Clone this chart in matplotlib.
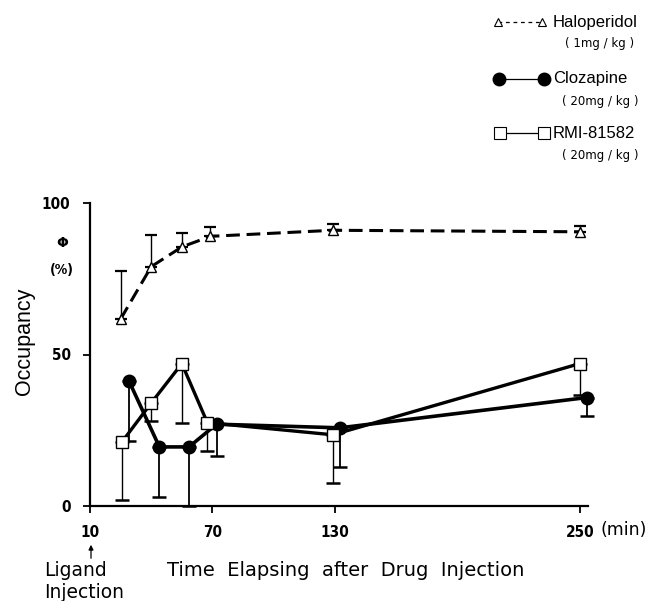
import matplotlib
matplotlib.use("Agg")
import matplotlib.pyplot as plt
import numpy as np

# ---------------- data ----------------
halo_t = [25, 40, 55, 69, 129, 250]
halo_y = [61.7, 79, 85.5, 89, 91, 90.5]
halo_err_up = [16, 10.5, 4.5, 3, 2, 2]

cloz_t = [29, 44, 58.5, 72, 132.5, 253.5]
cloz_y = [41.4, 19.5, 19.5, 27, 25.8, 35.8]
cloz_err_dn = [20, 16.5, 19.5, 10.6, 13, 6]

rmi_t = [25.5, 40, 55, 67.5, 129, 250]
rmi_y = [21, 34, 47, 27.5, 23.5, 47]
rmi_err_dn = [19, 6, 19.5, 9.3, 15.8, 10.5]

xticks = [10, 70, 130, 250]
yticks = [0, 50, 100]

legend_names = ["Haloperidol", "Clozapine", "RMI-81582"]
legend_doses = ["( 1mg / kg )", "( 20mg / kg )", "( 20mg / kg )"]

# ---------------- figure ----------------
W, H = 656, 601
fig = plt.figure(figsize=(W / 100, H / 100), dpi=100)
ax = fig.add_axes([90 / W, 1 - 506 / H, 498 / W, 303 / H])

zeros = [0] * 6
ax.errorbar(halo_t, halo_y, yerr=[zeros, halo_err_up], fmt='none', ecolor='black',
            elinewidth=1.0, capsize=4, capthick=1.6, clip_on=False, zorder=2)
ax.plot(halo_t, halo_y, color='black', lw=2.2, dashes=(4.5, 2.2), marker='^',
        ms=7, mfc='white', mec='black', mew=1.0, clip_on=False, zorder=3)

ax.errorbar(cloz_t, cloz_y, yerr=[cloz_err_dn, zeros], fmt='none', ecolor='black',
            elinewidth=1.3, capsize=5, capthick=1.8, clip_on=False, zorder=2)
ax.plot(cloz_t, cloz_y, color='black', lw=2.6, marker='o', ms=9, mfc='black',
        mec='black', clip_on=False, zorder=4)

ax.errorbar(rmi_t, rmi_y, yerr=[rmi_err_dn, zeros], fmt='none', ecolor='black',
            elinewidth=1.0, capsize=5, capthick=1.8, clip_on=False, zorder=2)
ax.plot(rmi_t, rmi_y, color='black', lw=2.4, marker='s', ms=9, mfc='white',
        mec='black', mew=1.0, clip_on=False, zorder=5)

ax.set_xlim(10, 254)
ax.set_ylim(0, 100)
for s in ['top', 'right']:
    ax.spines[s].set_visible(False)
for s in ['left', 'bottom']:
    ax.spines[s].set_linewidth(1.6)

tickfont = dict(family=['DejaVu Sans'], size=11, weight='bold', stretch='condensed')
ax.set_xticks(xticks)
ax.set_xticklabels([str(v) for v in xticks], fontdict=tickfont)
ax.set_yticks(yticks)
ax.set_yticklabels([str(v) for v in yticks], fontdict=tickfont)
ax.tick_params(axis='both', direction='out', length=5, width=1.3, pad=9)

# ---------------- overlay (pixel coords) ----------------
ov = fig.add_axes([0, 0, 1, 1], zorder=10)
ov.set_xlim(0, W)
ov.set_ylim(H, 0)
ov.axis('off')
ov.patch.set_alpha(0)

lab = ['Liberation Sans', 'DejaVu Sans']
ov.text(24, 341, "Occupancy", rotation=90, ha='center', va='center', fontsize=15.5,
        family=lab)
ov.text(62, 243, "Φ", ha='center', va='center', fontsize=10, family=['DejaVu Sans'],
        weight='bold')
ov.text(62, 270, "(%)", ha='center', va='center', fontsize=10, family=['DejaVu Sans'],
        weight='bold', stretch='condensed')

ov.text(600, 530, "(min)", ha='left', va='center', fontsize=12.5, family=['DejaVu Sans'])
ov.annotate("", xy=(91, 542), xytext=(91, 561),
            arrowprops=dict(arrowstyle='-|>', lw=0.9, color='black', mutation_scale=7))
ov.text(44, 571, "Ligand", ha='left', va='center', fontsize=13.5, family=['DejaVu Sans'])
ov.text(44, 592, "Injection", ha='left', va='center', fontsize=13.5, family=['DejaVu Sans'])
ov.text(167, 571, "Time  Elapsing  after  Drug  Injection", ha='left', va='center',
        fontsize=14, family=['DejaVu Sans'])

# legend
rows_y = [22, 79, 133]
ov.plot([498, 542], [rows_y[0], rows_y[0]], color='black', lw=0.9, dashes=(3, 3),
        marker='^', ms=6, mfc='white', mec='black', mew=0.8)
ov.plot([499, 544], [rows_y[1], rows_y[1]], color='black', lw=0.9,
        marker='o', ms=9, mfc='black', mec='black')
ov.plot([500, 544], [rows_y[2], rows_y[2]], color='black', lw=0.9,
        marker='s', ms=8, mfc='white', mec='black', mew=0.8)
for yy, name, dose in zip(rows_y, legend_names, legend_doses):
    ov.text(553, yy, name, ha='left', va='center', fontsize=12, family=lab)
    ov.text(600, yy + 22, dose, ha='center', va='center', fontsize=8.5,
            family=['DejaVu Sans'])

fig.savefig("out.png", dpi=100)
